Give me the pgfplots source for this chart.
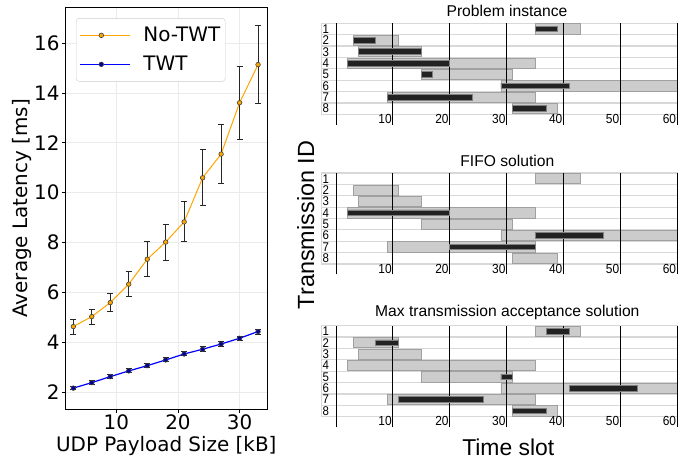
\documentclass[border=0pt]{standalone}
\usepackage{pgfplots}
\pgfplotsset{compat=1.18}
\usepackage{pgfplotstable}
\usepackage{fontspec}
\setmainfont{DejaVu Sans}
\newfontfamily\arial{Liberation Sans}

\definecolor{notwt}{HTML}{FFA500}
\definecolor{twt}{HTML}{0000FF}
\definecolor{winfill}{HTML}{CCCCCC}
\definecolor{windraw}{HTML}{A0A0A0}
\definecolor{txfill}{HTML}{222222}
\definecolor{rowline}{HTML}{D8D8D8}

% the gantt pictures are a bit squashed sideways
\newcommand\sx[1]{\scalebox{1}[1.1]{#1}}

% latency vs payload size
\pgfplotstableread{
x   no     noerr  twt   twterr
3   4.63   0.30   2.16  0.07
6   5.03   0.30   2.38  0.08
9   5.59   0.37   2.62  0.08
12  6.33   0.50   2.85  0.08
15  7.33   0.70   3.06  0.08
18  8.02   0.72   3.29  0.08
21  8.83   0.80   3.53  0.08
24  10.60  1.12   3.72  0.09
27  11.55  1.17   3.93  0.09
30  13.61  1.47   4.16  0.09
33  15.14  1.55   4.43  0.10
}\latency

% transmission windows, same in all three panels
\pgfplotstableread{
id start end
1  35  43
2  3   11
3  4   15
4  2   35
5  15  31
6  29  60
7  9   35
8  31  39
}\windows

\pgfplotstableread{
id start end
1  35  39
2  3   7
3  4   15
4  2   20
5  15  17
6  29  41
7  9   24
8  31  37
}\probtx

\pgfplotstableread{
id start end
4  2   20
6  35  47
7  20  35
}\fifotx

\pgfplotstableread{
id start end
1  37  41
2  7   11
5  29  31
6  41  53
7  11  26
8  31  37
}\maxtx

\pgfplotsset{
  gantt/.style={
    anchor=south west, scale only axis,
    width=355.6bp, height=91bp,
    xmin=-2.51, xmax=60, ymin=-8.5, ymax=-0.5,
    xbar stacked,
  },
  % row boxes and ids, drawn underneath
  gantt rows/.style={
    gantt,
    axis line style={rowline, line width=1.2bp},
    xtick=\empty,
    ytick={-8,...,-1}, yticklabels={\sx{8},\sx{7},\sx{6},\sx{5},\sx{4},\sx{3},\sx{2},\sx{1}},
    ytick pos=left, ytick align=inside, ytick style={draw=none},
    minor ytick={-7.5,-6.5,...,-1.5}, yminorgrids, minor tick length=0pt,
    minor grid style={rowline, line width=1.2bp},
    yticklabel style={font=\arial\fontsize{11.5}{11.5}\selectfont, anchor=west, inner sep=0.6bp},
  },
  % windows and the black slot lines on top of them
  gantt bars/.style={
    gantt, axis on top,
    axis line style={draw=none},
    ytick=\empty,
    xtick={0,10,...,60}, xticklabels={,\sx{10},\sx{20},\sx{30},\sx{40},\sx{50},\sx{60}},
    xtick pos=bottom, xtick align=outside, major tick length=10.5bp,
    xmajorgrids, major grid style={black, line width=0.8bp},
    tick style={black, line width=0.8bp},
    xticklabel style={font=\arial\fontsize{12}{12}\selectfont, anchor=south east, inner sep=1bp},
  },
  gantt over/.style={gantt, hide axis},
}

\newcommand\ganttpanel[2]{%
  \begin{axis}[gantt rows, at={(321.7bp,#1)}]
    \addplot[draw=none] coordinates {(0,-1)};
  \end{axis}
  \begin{axis}[gantt bars, at={(321.7bp,#1)}]
    \addplot[draw=none, fill=none, bar width=0.9] table[x=start, y expr=-\thisrow{id}] {\windows};
    \addplot[fill=winfill, draw=windraw, line width=0.8bp, bar width=0.9]
      table[x expr=\thisrow{end}-\thisrow{start}, y expr=-\thisrow{id}] {\windows};
  \end{axis}
  \begin{axis}[gantt over, at={(321.7bp,#1)}]
    \addplot[draw=none, fill=none, bar width=0.5] table[x=start, y expr=-\thisrow{id}] {#2};
    \addplot[fill=txfill, draw=black!50, line width=0.8bp, bar width=0.5]
      table[x expr=\thisrow{end}-\thisrow{start}, y expr=-\thisrow{id}] {#2};
  \end{axis}%
}

\begin{document}
\begin{tikzpicture}
\useasboundingbox (0bp,0bp) rectangle (699bp,462bp);

\begin{axis}[
    at={(65.3bp,52.7bp)}, anchor=south west, scale only axis,
    width=202bp, height=402bp,
    xmin=1.7, xmax=34.5, ymin=1.31, ymax=17.44,
    xtick={10,20,30}, ytick={2,4,...,16},
    tick pos=left, tick align=outside, major tick length=3.5bp,
    tick style={black, line width=0.8bp},
    axis line style={black, line width=0.8bp},
    grid=major, grid style={black!8, line width=0.8bp},
    /pgf/number format/assume math mode=true,
    ticklabel style={font=\fontsize{20}{20}\selectfont, inner sep=2bp},
    xlabel={UDP Payload Size [kB]},
    ylabel={Average Latency [ms]},
    label style={font=\fontsize{20}{20}\selectfont},
    xlabel style={at={(axis description cs:0.5,-0.104)}, anchor=base},
    ylabel style={at={(axis description cs:-0.185,0.5)}, anchor=base},
    legend style={at={(axis description cs:0.053,0.973)}, anchor=north west,
      draw=black!20, rounded corners=3bp, fill=white,
      font=\fontsize{20}{20}\selectfont, inner xsep=3bp, inner ysep=7bp,
      row sep=9bp, /tikz/every odd column/.append style={column sep=11bp}},
    legend cell align=left,
    legend image code/.code={%
      \path (0bp,0bp) -- (50bp,0bp);
      \draw[mark repeat=2, mark phase=2] plot coordinates {(0bp,0bp) (21.5bp,0bp) (43bp,0bp)};},
]
\addplot[notwt, line width=1bp, mark=*, mark size=2.3bp,
    mark options={fill=notwt, draw=black!75, line width=0.6bp},
    error bars/.cd, y dir=both, y explicit,
    error bar style={black!85, line width=1bp},
    error mark options={black!85, line width=1bp, mark size=3bp, rotate=90}]
  table[x=x, y=no, y error=noerr] {\latency};
\addlegendentry{No-TWT}
\addplot[twt, line width=1.2bp, mark=*, mark size=2.3bp,
    mark options={fill=twt!60!black, draw=black!75, line width=0.6bp},
    error bars/.cd, y dir=both, y explicit,
    error bar style={black!85, line width=1bp},
    error mark options={black!85, line width=1bp, mark size=3bp, rotate=90}]
  table[x=x, y=twt, y error=twterr] {\latency};
\addlegendentry{TWT}
\end{axis}

\ganttpanel{347.7bp}{\probtx}
\ganttpanel{198bp}{\fifotx}
\ganttpanel{45.3bp}{\maxtx}

\node[font=\arial\fontsize{15.7}{16}\selectfont, anchor=base] at (507bp,445.3bp) {Problem instance};
\node[font=\arial\fontsize{15.7}{16}\selectfont, anchor=base] at (507.3bp,295bp) {FIFO solution};
\node[font=\arial\fontsize{15.7}{16}\selectfont, anchor=base] at (507.3bp,145.3bp) {Max transmission acceptance solution};
\node[font=\arial\fontsize{23}{23}\selectfont, anchor=base] at (508.3bp,7bp) {Time slot};
\node[font=\arial\fontsize{23.5}{24}\selectfont, anchor=base, rotate=90] at (314bp,237.1bp) {Transmission ID};
\end{tikzpicture}
\end{document}
